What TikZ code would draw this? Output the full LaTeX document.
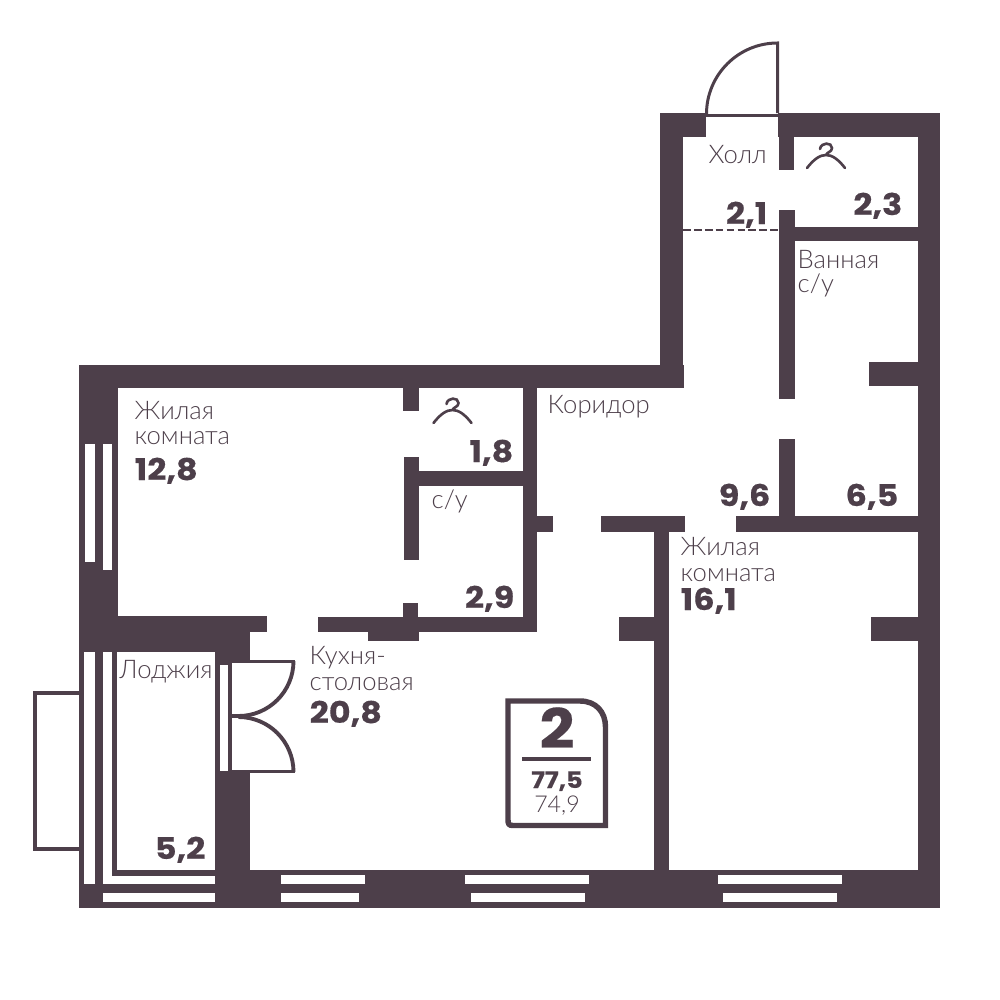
\documentclass[tikz,border=0pt]{standalone}
\usepackage{fontspec}
\setmainfont{Lato}
\newfontfamily\lightf{Lato Light}
\newfontfamily\boldf[FakeStretch=1.12,FakeBold=0.4]{Poppins Bold}
\definecolor{wallc}{HTML}{4D3F4A}
\tikzset{
  wall/.style={fill=wallc},
  glass/.style={fill=white},
  thinline/.style={draw=wallc,line width=3pt*0.2845},
  lab/.style={inner sep=0pt,text=wallc,font=\lightf\fontsize{7.3}{8}\selectfont,anchor=base west},
  num/.style={inner sep=0pt,text=wallc,font=\boldf\fontsize{8.5}{10}\selectfont},
  numl/.style={num,anchor=base west},
  numr/.style={num,anchor=base east},
}
\newcommand{\hanger}[2]{%
  \draw[draw=wallc,line width=0.75pt,line cap=round] (#1-6,#2+6) .. controls (#1-5,#2-1) and (#1+6,#2-1) .. (#1+6,#2+5) .. controls (#1+6,#2+9) and (#1+1,#2+9) .. (#1,#2+12)
   (#1-19,#2+25) .. controls (#1-12,#2+16) and (#1-6,#2+12) .. (#1,#2+12) .. controls (#1+6,#2+12) and (#1+12,#2+16) .. (#1+19,#2+25);}
\begin{document}
\begin{tikzpicture}[x=0.01cm,y=-0.01cm]
\useasboundingbox (0,0) rectangle (1000,1000);
% outer walls
\fill[wall] (79,365) rectangle (684,388);
\fill[wall] (660,113) rectangle (683,388);
\fill[wall] (660,113) rectangle (706,137);
\fill[wall] (778,113) rectangle (940,137);
\fill[wall] (918,113) rectangle (940,908);
\fill[wall] (79,365) rectangle (118,652);
\fill[wall] (79,616) rectangle (267,632);
\fill[wall] (79,632) rectangle (250,652);
\fill[wall] (215,652) rectangle (250,663);
\fill[wall] (79,652) rectangle (84,908);
\fill[wall] (79,884) rectangle (215,908);
\fill[wall] (95,652) rectangle (103,884);
\fill[wall] (112,652) rectangle (117,876);
\fill[wall] (112,870) rectangle (215,876);
\fill[wall] (215,652) rectangle (220,772);
\fill[wall] (228,663) rectangle (232,772);
\fill[wall] (215,663) rectangle (232,665);
\fill[wall] (215,771) rectangle (250,908);
\fill[wall] (215,870) rectangle (940,908);
% hall partitions
\fill[wall] (779,137) rectangle (794,170);
\fill[wall] (779,210) rectangle (795,399);
\fill[wall] (780,227) rectangle (918,241);
\fill[wall] (869,362) rectangle (918,386);
\fill[wall] (871,617) rectangle (918,641);
\fill[wall] (779,439) rectangle (795,532);
\fill[wall] (736,516) rectangle (918,532);
\fill[wall] (601,516) rectangle (685,532);
\fill[wall] (654,516) rectangle (669,870);
\fill[wall] (619,617) rectangle (654,641);
% bathroom and closet
\fill[wall] (403,388) rectangle (419,411);
\fill[wall] (523,388) rectangle (537,632);
\fill[wall] (537,516) rectangle (553,532);
\fill[wall] (404,471) rectangle (523,486);
\fill[wall] (404,457) rectangle (419,560);
\fill[wall] (403,603) rectangle (418,617);
\fill[wall] (318,617) rectangle (537,632);
\fill[wall] (368,617) rectangle (419,641);
% windows
\fill[glass] (85,444) rectangle (95,562);
\fill[glass] (103,444) rectangle (112,570);
\fill[glass] (103,893) rectangle (215,902);
\fill[glass] (281,875) rectangle (365,884);
\fill[glass] (281,893) rectangle (359,902);
\fill[glass] (465,875) rectangle (589,884);
\fill[glass] (471,893) rectangle (585,902);
\fill[glass] (718,875) rectangle (842,884);
\fill[glass] (723,893) rectangle (837,902);
% balcony
\draw[draw=wallc,line width=1.1pt] (79,693) -- (35,693) -- (35,849) -- (79,849);
% entrance door
\draw[thinline] (706,115) -- (778,115);
\draw[thinline] (777.5,113) -- (777.5,43) arc[start angle=270,end angle=180,radius=71];
% balcony door
\fill[wall] (250,660) rectangle (295,663);
\fill[wall] (232,770) rectangle (295,773);
\draw[draw=wallc,line width=1.1pt] (293.5,661) arc[start angle=0,end angle=90,radius=55] -- (228,716);
\draw[draw=wallc,line width=1.1pt] (293.5,772) arc[start angle=0,end angle=-90,radius=55];
% dashed
\draw[draw=wallc,line width=0.45pt,dash pattern=on 2.2pt off 0.9pt] (683,230) -- (780,230);
% hangers
\hanger{826}{143}
\hanger{452.5}{398}
% badge
\draw[draw=wallc,line width=1.55pt] (508,701) -- (580,701) .. controls (596,701) and (605.5,712) .. (605.5,727) -- (605.5,825.5) -- (513,825.5) .. controls (509,825.5) and (508,824) .. (508,820) -- cycle;
\fill[wall] (522,757) rectangle (591,761);
\node[num,font=\boldf\fontsize{15.5}{18}\selectfont] (bn) at (557,748) [anchor=base] {2};
\node[num,font=\boldf\fontsize{6.5}{8}\selectfont] (bt) at (557,788) [anchor=base] {77,5};
\node[lab,anchor=base,font=\lightf\fontsize{6.6}{7}\selectfont] (bl) at (557,812) {74,9};
% labels
\node[lab] (t1) at (708,163) {Холл};
\node[lab] (t2) at (134,419) {Жилая};
\node[lab] (t3) at (134,444) {комната};
\node[numl] (n1) at (134,480) {12,8};
\node[lab] (t4) at (797,268) {Ванная};
\node[lab] (t5) at (797,292) {с/у};
\node[lab] (t6) at (547,413) {Коридор};
\node[numr] (n2) at (514,462) {1,8};
\node[lab] (t7) at (431,508) {с/у};
\node[numr] (n3) at (515,608) {2,9};
\node[numr] (n4) at (771,506) {9,6};
\node[numr] (n5) at (899,506) {6,5};
\node[lab] (t8) at (680,555) {Жилая};
\node[lab] (t9) at (680,581) {комната};
\node[numl] (n6) at (680,610) {16,1};
\node[numr] (n7) at (768,224) {2,1};
\node[numr] (n8) at (903,215) {2,3};
\node[lab] (t10) at (309,664) {Кухня-};
\node[lab] (t11) at (309,690) {столовая};
\node[numl] (n9) at (309,723) {20,8};
\node[lab] (t12) at (119,678) {Лоджия};
\node[numr] (n10) at (206,859) {5,2};
\end{tikzpicture}
\end{document}
